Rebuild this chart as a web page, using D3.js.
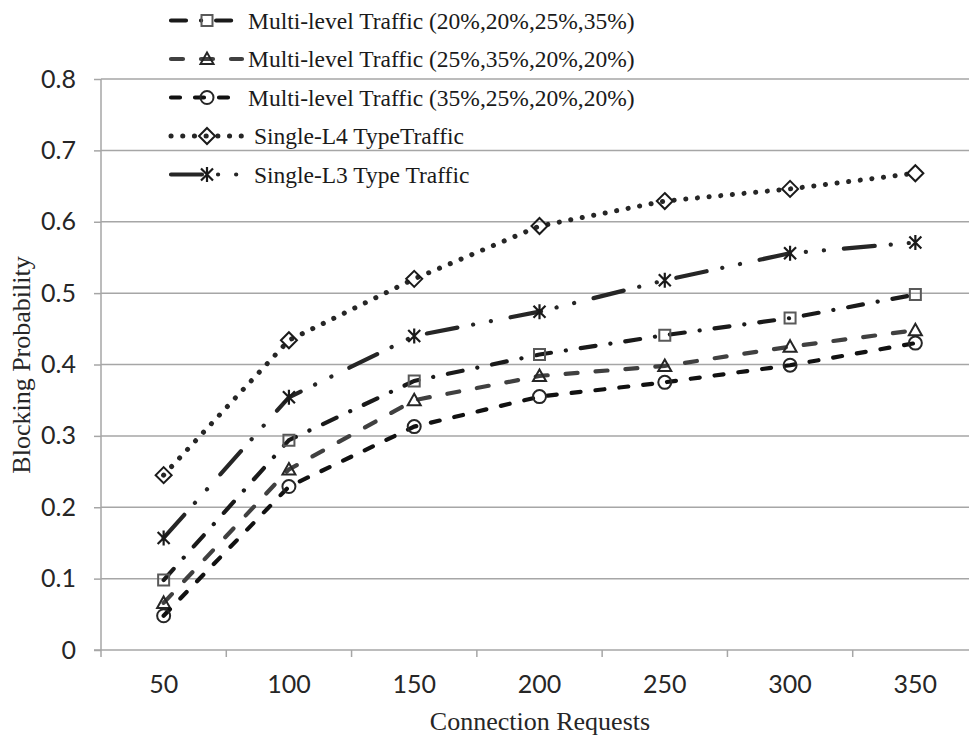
<!DOCTYPE html>
<html>
<head>
<meta charset="utf-8">
<style>
  body {
    margin: 0;
    background: #fff;
  }
  svg {
    display: block;
  }
  .axis text {
    font-family: Lato;
    font-size: 25px;
    fill: #262626;
  }
  .axis path, .axis line {
    stroke: #a6a6a6;
    stroke-width: 1.5px;
  }
  .grid line {
    stroke: #a6a6a6;
    stroke-width: 1.5px;
  }
  .title {
    font-family: "Liberation Serif";
    font-size: 26px;
    fill: #262626;
  }
  .legend text {
    font-family: "Liberation Serif";
    font-size: 23.5px;
    fill: #1a1a1a;
    white-space: pre;
  }
</style>
</head>
<body>
<svg width="969" height="738"></svg>
<script src="https://d3js.org/d3.v7.min.js"></script>
<script>
var categories = [50, 100, 150, 200, 250, 300, 350];
var yTicks = [0, 0.1, 0.2, 0.3, 0.4, 0.5, 0.6, 0.7, 0.8];
var yTickLabels = ["0", "0.1", "0.2", "0.3", "0.4", "0.5", "0.6", "0.7", "0.8"];

var multiA = [0.098, 0.294, 0.377, 0.414, 0.441, 0.465, 0.498];
var multiB = [0.066, 0.253, 0.350, 0.384, 0.398, 0.425, 0.448];
var multiC = [0.048, 0.229, 0.313, 0.355, 0.375, 0.399, 0.430];
var singleL4 = [0.245, 0.434, 0.520, 0.594, 0.629, 0.646, 0.668];
var singleL3 = [0.157, 0.354, 0.440, 0.474, 0.518, 0.556, 0.571];

var seriesNames = [
  "Multi-level Traffic (20%,20%,25%,35%)",
  "Multi-level Traffic (25%,35%,20%,20%)",
  "Multi-level Traffic (35%,25%,20%,20%)",
  " Single-L4 TypeTraffic",
  " Single-L3 Type Traffic"
];

// look of each series, same order as seriesNames
var styles = [
  {values: multiA, color: "#1a1a1a", width: 4.2, dash: "15,15,0.1,15", marker: "square", mColor: "#595959"},
  {values: multiB, color: "#404040", width: 4.2, dash: "12,18", marker: "triangle", mColor: "#262626"},
  {values: multiC, color: "#111", width: 4.2, dash: "9,15", marker: "circle", mColor: "#262626"},
  {values: singleL4, color: "#262626", width: 5, dash: "0.1,11.6", marker: "diamond", mColor: "#1a1a1a"},
  {values: singleL3, color: "#262626", width: 4.2, dash: "31,16,0.1,18,0.1,20", marker: "star", mColor: "#1a1a1a"}
];

var svg = d3.select("svg");

var x = d3.scaleBand()
    .domain(categories)
    .range([101, 978]);

var y = d3.scaleLinear()
    .domain([0, 0.8])
    .range([650, 79]);

function cx(c) { return x(c) + x.bandwidth() / 2; }

// grid
svg.append("g")
    .attr("class", "grid")
    .selectAll("line")
    .data(yTicks.slice(1))
    .enter().append("line")
    .attr("x1", 101)
    .attr("x2", 978)
    .attr("y1", function(d) { return y(d); })
    .attr("y2", function(d) { return y(d); });

// y axis
var yAxis = svg.append("g")
    .attr("class", "axis")
    .attr("transform", "translate(101,0)")
    .call(d3.axisLeft(y)
        .tickValues(yTicks)
        .tickFormat(function(d, i) { return yTickLabels[i]; })
        .tickSize(7)
        .tickPadding(18));
yAxis.select(".domain").attr("d", "M0," + y(0) + "V" + y(0.8));

// x axis: labels at band centres, ticks at band edges
var xAxis = svg.append("g")
    .attr("class", "axis")
    .attr("transform", "translate(0,650)")
    .call(d3.axisBottom(x)
        .tickSize(0)
        .tickPadding(25));
xAxis.select(".domain").attr("d", "M94,0H978");

xAxis.selectAll(".edge")
    .data(categories)
    .enter().append("line")
    .attr("class", "edge")
    .attr("x1", function(d) { return x(d); })
    .attr("x2", function(d) { return x(d); })
    .attr("y1", 0)
    .attr("y2", 7);

// axis titles
svg.append("text")
    .attr("class", "title")
    .attr("x", 540)
    .attr("y", 730)
    .attr("text-anchor", "middle")
    .text("Connection Requests");

svg.append("text")
    .attr("class", "title")
    .attr("transform", "translate(30,365) rotate(-90)")
    .attr("text-anchor", "middle")
    .text("Blocking Probability");

function markerPath(type) {
  if (type == "square") return "M-5.5,-5.5H5.5V5.5H-5.5Z";
  if (type == "triangle") return "M0,-6.5L6.5,5L-6.5,5Z";
  if (type == "circle") return "M-6.5,0A6.5,6.5 0 1,0 6.5,0A6.5,6.5 0 1,0 -6.5,0Z";
  if (type == "diamond") return "M0,-8L8,0L0,8L-8,0Z";
  if (type == "star") return "M0,-7.5V7.5M-6,-6L6,6M-6,6L6,-6";
}

var line = d3.line()
    .x(function(d, i) { return cx(categories[i]); })
    .y(function(d) { return y(d); });

var plot = svg.append("g");

styles.forEach(function(s) {
  plot.append("path")
      .attr("d", line(s.values))
      .attr("fill", "none")
      .attr("stroke", s.color)
      .attr("stroke-width", s.width)
      .attr("stroke-linecap", "round")
      .attr("stroke-dasharray", s.dash);

  plot.selectAll(null)
      .data(s.values)
      .enter().append("path")
      .attr("transform", function(d, i) { return "translate(" + cx(categories[i]) + "," + y(d) + ")"; })
      .attr("d", markerPath(s.marker))
      .attr("fill", "none")
      .attr("stroke", s.mColor)
      .attr("stroke-width", s.marker == "star" ? 2.2 : 2);
});

// legend
var legend = svg.append("g").attr("class", "legend");

styles.forEach(function(s, i) {
  var ly = 20.5 + i * 38.5;
  legend.append("path")
      .attr("d", "M171," + ly + "H242")
      .attr("fill", "none")
      .attr("stroke", s.color)
      .attr("stroke-width", s.width)
      .attr("stroke-linecap", "round")
      .attr("stroke-dasharray", s.dash);
  legend.append("path")
      .attr("transform", "translate(207," + ly + ")")
      .attr("d", markerPath(s.marker))
      .attr("fill", "none")
      .attr("stroke", s.mColor)
      .attr("stroke-width", s.marker == "star" ? 2.2 : 2);
  legend.append("text")
      .attr("x", 248)
      .attr("y", ly + 8)
      .text(seriesNames[i]);
});
</script>
</body>
</html>
